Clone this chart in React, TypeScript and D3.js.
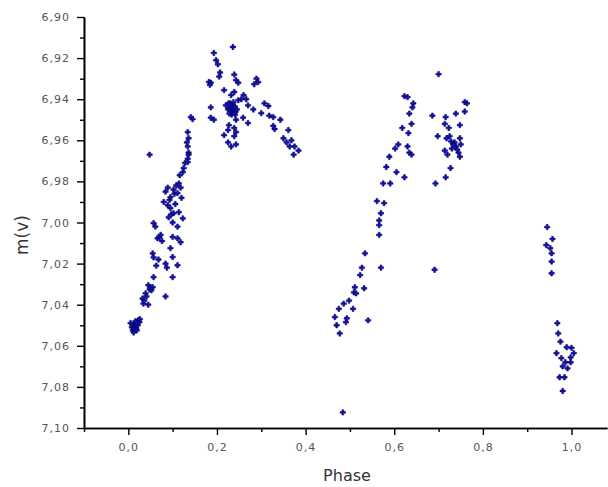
import React, { useEffect, useRef } from 'react';
import * as d3 from 'd3';

type Pt = [number, number]; // [phase, m(v)]

// primary minimum around phase 0
const primaryMin: Pt[] = [
  [0.005, 7.049], [0.008, 7.051], [0.010, 7.0525], [0.011, 7.050], [0.013, 7.0515],
  [0.015, 7.0505], [0.017, 7.049], [0.018, 7.0515], [0.020, 7.0485], [0.021, 7.050],
  [0.023, 7.0475], [0.025, 7.0485], [0.012, 7.0535], [0.016, 7.048], [0.019, 7.0525],
  [0.026, 7.047], [0.032, 7.037], [0.034, 7.0395], [0.036, 7.038], [0.039, 7.0345],
  [0.041, 7.036], [0.045, 7.040], [0.045, 7.0305], [0.048, 7.0325], [0.050, 7.0315],
  [0.055, 7.0315], [0.052, 7.033],
];

// rising branch 0.05 - 0.15
const risingBranch: Pt[] = [
  [0.055, 7.015], [0.057, 7.017], [0.057, 7.0003], [0.061, 7.002], [0.066, 7.0077],
  [0.070, 7.007], [0.073, 7.006], [0.076, 7.009], [0.080, 6.990], [0.084, 6.985],
  [0.084, 7.020], [0.084, 7.036], [0.087, 7.022], [0.089, 6.983], [0.089, 6.9916],
  [0.091, 6.9975], [0.093, 6.989], [0.095, 6.9877], [0.095, 6.993], [0.095, 7.0125],
  [0.097, 6.996], [0.100, 7.000], [0.100, 7.007], [0.100, 7.0168], [0.100, 7.0266],
  [0.102, 6.984], [0.102, 6.9955], [0.104, 6.986], [0.106, 6.991], [0.108, 6.982],
  [0.111, 6.9857], [0.111, 7.002], [0.111, 7.0077], [0.111, 7.0208], [0.114, 6.981],
  [0.114, 6.995], [0.116, 6.977], [0.118, 6.983], [0.118, 7.0096], [0.120, 6.988],
  [0.123, 6.9755], [0.123, 6.998], [0.125, 6.9735], [0.128, 6.971], [0.132, 6.961],
  [0.134, 6.956], [0.134, 6.963], [0.134, 6.969], [0.134, 6.9706], [0.136, 6.959],
  [0.136, 6.966], [0.136, 6.967], [0.141, 6.9487], [0.145, 6.9497], [0.057, 7.0266],
  [0.063, 7.021], [0.068, 7.018], [0.048, 6.967],
];

// maximum 0.18 - 0.38
const maximum: Pt[] = [
  [0.193, 6.9175], [0.198, 6.921], [0.202, 6.923], [0.205, 6.929], [0.207, 6.927],
  [0.182, 6.9316], [0.186, 6.932], [0.184, 6.933], [0.236, 6.9146], [0.239, 6.928],
  [0.243, 6.9307], [0.248, 6.932], [0.289, 6.930], [0.293, 6.9317], [0.284, 6.9327],
  [0.216, 6.9356], [0.239, 6.9365], [0.232, 6.938], [0.266, 6.940], [0.248, 6.9405],
  [0.220, 6.943], [0.225, 6.945], [0.228, 6.9445], [0.230, 6.942], [0.232, 6.944],
  [0.234, 6.946], [0.236, 6.943], [0.238, 6.945], [0.240, 6.9435], [0.242, 6.946],
  [0.233, 6.9475], [0.228, 6.947], [0.237, 6.9415], [0.245, 6.945], [0.226, 6.942],
  [0.241, 6.9475], [0.270, 6.943], [0.282, 6.945], [0.307, 6.942], [0.316, 6.9433],
  [0.300, 6.9468], [0.318, 6.948], [0.327, 6.9487], [0.343, 6.950], [0.327, 6.953],
  [0.330, 6.9545], [0.361, 6.955], [0.350, 6.959], [0.357, 6.961], [0.368, 6.960],
  [0.375, 6.963], [0.364, 6.963], [0.384, 6.965], [0.373, 6.967], [0.186, 6.944],
  [0.186, 6.949], [0.193, 6.950], [0.259, 6.949], [0.243, 6.950], [0.270, 6.9516],
  [0.227, 6.9526], [0.239, 6.954], [0.225, 6.955], [0.243, 6.956], [0.216, 6.9575],
  [0.239, 6.958], [0.225, 6.961], [0.232, 6.963], [0.243, 6.962], [0.255, 6.940],
  [0.260, 6.938],
];

// secondary minimum and second rise 0.46 - 0.65
const secondRise: Pt[] = [
  [0.623, 6.9385], [0.630, 6.939], [0.643, 6.942], [0.641, 6.944], [0.634, 6.947],
  [0.639, 6.952], [0.618, 6.954], [0.632, 6.9565], [0.609, 6.962], [0.630, 6.963],
  [0.602, 6.964], [0.634, 6.966], [0.639, 6.967], [0.589, 6.968], [0.582, 6.973],
  [0.605, 6.9755], [0.623, 6.978], [0.575, 6.981], [0.591, 6.981], [0.561, 6.9896],
  [0.577, 6.9906], [0.570, 6.9955], [0.566, 6.999], [0.566, 7.0013], [0.566, 7.006],
  [0.534, 7.015], [0.527, 7.022], [0.570, 7.022], [0.523, 7.0256], [0.511, 7.0315],
  [0.532, 7.032], [0.509, 7.034], [0.514, 7.0345], [0.498, 7.038], [0.486, 7.0395],
  [0.507, 7.042], [0.475, 7.042], [0.466, 7.046], [0.493, 7.0466], [0.491, 7.0485],
  [0.541, 7.0476], [0.470, 7.050], [0.477, 7.054], [0.484, 7.0924],
];

// second maximum 0.68 - 0.77
const secondMax: Pt[] = [
  [0.700, 6.9278], [0.691, 7.023], [0.686, 6.948], [0.716, 6.9487], [0.739, 6.947],
  [0.759, 6.9414], [0.764, 6.942], [0.759, 6.946], [0.714, 6.952], [0.723, 6.954],
  [0.748, 6.9526], [0.698, 6.958], [0.718, 6.959], [0.725, 6.958], [0.736, 6.961],
  [0.748, 6.959], [0.750, 6.962], [0.739, 6.963], [0.730, 6.964], [0.714, 6.965],
  [0.720, 6.967], [0.745, 6.966], [0.748, 6.968], [0.727, 6.9735], [0.716, 6.978],
  [0.693, 6.981], [0.733, 6.962], [0.742, 6.9645], [0.728, 6.9605],
];

// descending to minimum 0.94 - 1.0
const finalBranch: Pt[] = [
  [0.945, 7.0022], [0.957, 7.008], [0.943, 7.011], [0.952, 7.0125], [0.955, 7.015],
  [0.955, 7.019], [0.955, 7.0247], [0.968, 7.049], [0.970, 7.054], [0.975, 7.058],
  [0.989, 7.0607], [1.000, 7.061], [0.966, 7.0636], [1.005, 7.0636], [0.998, 7.0656],
  [0.977, 7.066], [0.986, 7.068], [0.998, 7.068], [0.980, 7.070], [0.991, 7.071],
  [0.973, 7.0753], [0.984, 7.0753], [0.980, 7.082],
];

const xTicks = [0, 0.2, 0.4, 0.6, 0.8, 1.0];
const xMinor = [-0.1, 0.1, 0.3, 0.5, 0.7, 0.9];
const yTicks = [6.9, 6.92, 6.94, 6.96, 6.98, 7.0, 7.02, 7.04, 7.06, 7.08, 7.1];
const yMinor = [6.91, 6.93, 6.95, 6.97, 6.99, 7.01, 7.03, 7.05, 7.07, 7.09];

const App = () => {
  const svgRef = useRef<SVGSVGElement>(null);

  useEffect(() => {
    const svg = d3.select(svgRef.current);
    svg.selectAll('*').remove();

    const x = d3.scaleLinear().domain([-0.1, 1.08]).range([84, 607]);
    const y = d3.scaleLinear().domain([6.9, 7.1]).range([17, 428]);

    const loc = d3.formatLocale({ decimal: ',', thousands: '.', grouping: [3], currency: ['', ''] });
    const fx = loc.format('.1f');
    const fy = loc.format('.2f');

    const styleAxis = (g: any) => {
      g.select('.domain').attr('stroke', '#000').attr('stroke-width', 1.6);
      g.selectAll('.tick line').attr('stroke', '#000').attr('stroke-width', 1.4);
      g.selectAll('.tick text')
        .attr('fill', '#555')
        .style('font-family', 'DejaVu Sans, sans-serif')
        .style('font-size', '11px')
        .style('letter-spacing', '1px');
    };

    // minor ticks
    svg.append('g')
      .attr('transform', 'translate(0,428)')
      .call(d3.axisBottom(x).tickValues(xMinor).tickSize(4).tickSizeOuter(0).tickFormat(() => ''))
      .call(styleAxis);
    svg.append('g')
      .attr('transform', 'translate(84,0)')
      .call(d3.axisLeft(y).tickValues(yMinor).tickSize(4).tickSizeOuter(0).tickFormat(() => ''))
      .call(styleAxis);

    svg.append('g')
      .attr('transform', 'translate(0,428)')
      .call(d3.axisBottom(x).tickValues(xTicks).tickSize(7).tickSizeOuter(0).tickPadding(8).tickFormat((d: any) => fx(d)))
      .call(styleAxis);
    svg.append('g')
      .attr('transform', 'translate(84,0)')
      .call(d3.axisLeft(y).tickValues(yTicks).tickSize(7).tickSizeOuter(0).tickPadding(7).tickFormat((d: any) => fy(d)))
      .call(styleAxis);

    const data = [...primaryMin, ...risingBranch, ...maximum, ...secondRise, ...secondMax, ...finalBranch];
    const cross = d3.symbol().type(d3.symbolCross).size(16);

    svg.append('g')
      .selectAll('path')
      .data(data)
      .enter().append('path')
      .attr('d', cross)
      .attr('transform', d => `translate(${x(d[0])},${y(d[1])})`)
      .attr('fill', '#1010b0')
      .attr('stroke', '#000060')
      .attr('stroke-width', 0.5);

    svg.append('text')
      .attr('x', 347)
      .attr('y', 481)
      .attr('text-anchor', 'middle')
      .attr('fill', '#333')
      .style('font-family', 'DejaVu Sans, sans-serif')
      .style('font-size', '16px')
      .text('Phase');

    svg.append('text')
      .attr('transform', 'translate(28,235) rotate(-90)')
      .attr('text-anchor', 'middle')
      .attr('fill', '#333')
      .style('font-family', 'DejaVu Sans, sans-serif')
      .style('font-size', '17px')
      .text('m(v)');
  }, []);

  return (
    <svg
      ref={svgRef}
      width={608}
      height={487}
      style={{ position: 'absolute', left: 0, top: 0, background: '#fff' }}
    />
  );
};

export default App;
